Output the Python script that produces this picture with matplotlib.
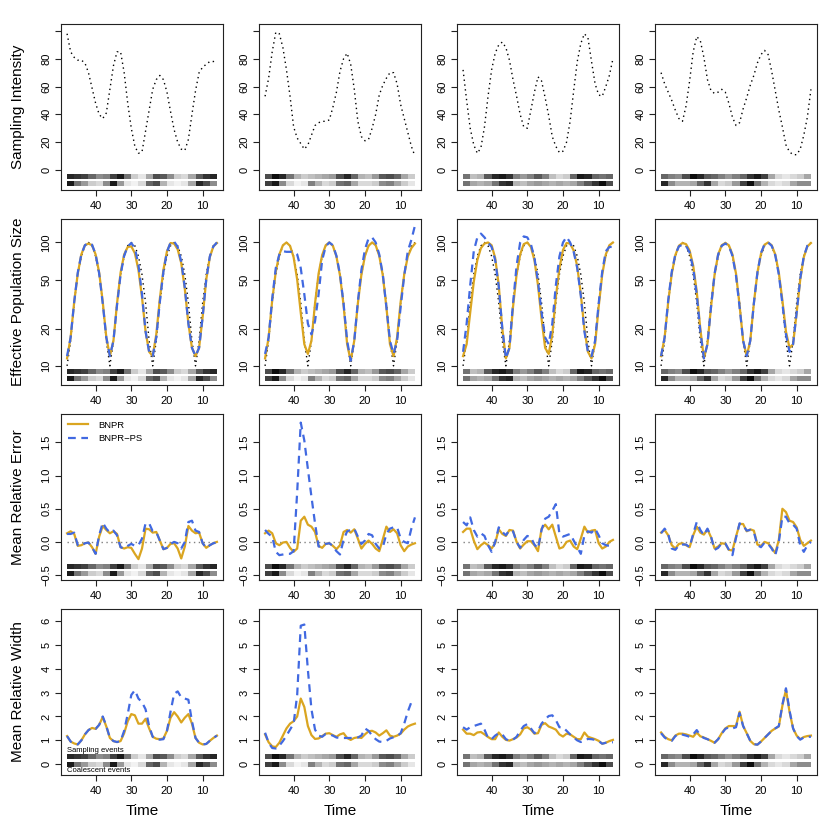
import matplotlib
matplotlib.use("Agg")
import matplotlib.pyplot as plt

plt.rcParams['font.family'] = ['Liberation Sans', 'DejaVu Sans']

# time grid (48 -> 6, one value per unit)
times = list(range(48, 5, -1))
# strip cells, 2 time units wide, left edges 48, 46, ... 8
cell_starts = list(range(48, 7, -2))

# --- row 1: sampling intensity (one per column) ---
samp_c1 = [98, 85, 81, 79, 79, 77, 70, 59, 48, 40, 37,
           41, 58, 75, 85, 85, 70, 48, 30, 17, 12, 13,
           28, 43, 58, 65, 68, 65, 56, 42, 29, 20, 15,
           14, 22, 40, 57, 70, 74, 76, 78, 78, 79]
samp_c2 = [53, 66, 85, 99, 98, 88, 72, 53, 31, 23, 19,
           15, 18, 25, 32, 34, 35, 35, 36, 45, 56, 71,
           80, 84, 76, 58, 35, 24, 21, 22, 30, 40, 54,
           61, 66, 70, 70, 62, 47, 37, 27, 17, 10]
samp_c3 = [72, 50, 30, 18, 12, 16, 31, 53, 72, 84, 90,
           92, 88, 79, 65, 53, 40, 31, 30, 43, 56, 67,
           64, 52, 39, 24, 17, 12.5, 13.5, 20, 35, 57, 78,
           91, 98, 95, 78, 62, 54, 53, 60, 68, 80]
samp_c4 = [70, 62, 56, 50, 43, 37, 35, 46, 64, 85, 96,
           93, 81, 65, 57, 55, 56, 58, 56, 48, 38, 32,
           34, 44, 52, 61, 68, 77, 83, 86, 83, 71, 57,
           43, 31, 18, 13, 11, 11, 15, 25, 38, 58]

# --- row 2: effective population size ---
ne_true = [10, 16, 32.5, 55, 77.5, 94, 100, 94, 77.5, 55, 32.5,
           16, 10, 16, 32.5, 55, 77.5, 94, 100, 94, 77.5, 55,
           32.5, 16, 10, 16, 32.5, 55, 77.5, 94, 100, 94, 77.5,
           55, 32.5, 16, 10, 16, 32.5, 55, 77.5, 94, 100]
ne_bnpr_c1 = [11.5, 17, 33, 56, 80, 95, 98, 95, 80, 57, 33,
              17, 12, 16, 32, 57, 80, 92, 93, 82, 60, 36,
              19, 13, 12, 18, 35, 60, 85, 99, 98, 88, 68,
              42, 22, 14, 12, 14, 25, 50, 76, 93, 99]
ne_ps_c1 = [12, 17, 33, 57, 80, 95, 99, 96, 80, 56, 32,
            17, 12, 16, 31, 55, 78, 93, 99, 90, 66, 38,
            19, 13, 12, 17, 33, 58, 84, 100, 102, 92, 70,
            43, 22, 14, 12, 14, 25, 50, 77, 93, 100]
ne_bnpr_c2 = [11.5, 17, 34, 58, 80, 95, 100, 94, 76, 50, 27,
              15, 12.5, 16, 32, 56, 79, 95, 100, 94, 77, 54,
              31, 15, 11, 16, 32, 55, 78, 94, 100, 95, 78,
              54, 30, 15, 12, 17, 33, 55, 77, 90, 98]
ne_ps_c2 = [12.5, 17, 35, 62, 80, 85, 84, 84, 84, 80, 62,
            38, 22, 18, 23, 38, 72, 93, 100, 95, 78, 55,
            32, 16, 11, 16, 33, 60, 88, 108, 110, 100, 80,
            55, 30, 16, 12.5, 16, 30, 54, 85, 105, 137]
ne_bnpr_c3 = [12, 15, 27, 48, 72, 90, 98, 100, 95, 75, 45,
              20, 11.5, 14, 30, 55, 80, 97, 100, 92, 72, 45,
              24, 14, 12.5, 18, 36, 62, 87, 99, 98, 86, 64,
              38, 20, 13, 11.5, 15, 30, 55, 80, 95, 100]
ne_ps_c3 = [13, 22, 45, 85, 110, 118, 110, 100, 92, 72, 44,
            20, 11.5, 14, 32, 65, 100, 112, 110, 97, 75, 48,
            27, 17, 15, 22, 45, 77, 100, 111, 100, 84, 62,
            37, 19, 13, 12, 16, 32, 58, 85, 92, 92]
ne_bnpr_c4 = [12, 17, 33, 56, 79, 94, 99, 97, 86, 65, 40,
              20, 11.5, 15, 30, 55, 80, 95, 99, 95, 80, 56,
              31, 16, 12, 16, 32, 57, 81, 96, 100, 95, 80,
              57, 34, 19, 14, 15, 27, 50, 76, 93, 99]
ne_ps_c4 = [12, 17, 34, 58, 80, 93, 96, 94, 83, 62, 38,
            19, 11.5, 15, 30, 56, 80, 94, 98, 94, 78, 54,
            30, 16, 12, 16, 32, 57, 82, 97, 100, 94, 79,
            55, 32, 18, 13, 15, 27, 51, 77, 94, 100]

# --- row 3: mean relative error ---
mre_bnpr_c1 = [0.13, 0.16, 0.12, -0.06, -0.05, -0.02, -0.01, -0.08, -0.18, 0.08, 0.24,
               0.18, 0.13, 0.16, 0.12, -0.08, -0.1, -0.08, -0.09, -0.18, -0.26, -0.1,
               0.2, 0.19, 0.14, 0.15, 0.02, -0.11, -0.09, -0.03, -0.02, -0.1, -0.25,
               -0.07, 0.24, 0.17, 0.13, 0.14, -0.02, -0.09, -0.05, -0.02, 0.0]
mre_ps_c1 = [0.12, 0.12, 0.14, -0.05, -0.06, -0.02, -0.01, -0.08, -0.18, 0.1, 0.29,
             0.2, 0.14, 0.17, 0.1, -0.08, -0.1, -0.06, -0.03, -0.06, -0.05, 0.05,
             0.28, 0.28, 0.16, 0.15, 0.02, -0.11, -0.09, -0.03, 0.0, -0.02, -0.1,
             0.0, 0.3, 0.32, 0.17, 0.15, -0.02, -0.09, -0.05, -0.02, -0.01]
mre_bnpr_c2 = [0.13, 0.17, 0.13, -0.02, -0.05, -0.01, 0.0, -0.09, -0.15, -0.1, 0.32,
               0.38, 0.26, 0.23, 0.15, -0.06, -0.09, -0.03, -0.02, -0.06, -0.11, -0.05,
               0.15, 0.18, 0.14, 0.19, 0.05, -0.1, -0.03, 0.02, -0.03, -0.1, -0.14,
               0.04, 0.23, 0.15, 0.19, 0.13, -0.05, -0.14, -0.07, -0.04, -0.02]
mre_ps_c2 = [0.18, 0.12, 0.08, -0.15, -0.2, -0.19, -0.18, -0.18, -0.14, 0.75, 1.8,
             1.53, 1.1, 0.68, 0.28, -0.07, -0.07, -0.03, -0.02, -0.06, -0.14, -0.19,
             0.03, 0.16, 0.18, 0.2, 0.08, -0.03, 0.02, 0.12, 0.1, -0.03, -0.1,
             -0.08, 0.12, 0.2, 0.22, 0.22, 0.05, 0.0, -0.02, 0.2, 0.37]
mre_bnpr_c3 = [0.15, 0.2, 0.2, 0.02, -0.11, -0.05, -0.01, -0.05, -0.1, -0.02, 0.19,
               0.12, 0.09, 0.18, 0.17, 0.0, -0.1, -0.04, 0.01, 0.01, -0.05, -0.14,
               0.2, 0.26, 0.19, 0.26, 0.08, -0.1, -0.08, 0.0, 0.02, -0.07, -0.11,
               0.05, 0.23, 0.14, 0.17, 0.18, -0.02, -0.1, -0.07, 0.0, 0.03]
mre_ps_c3 = [0.3, 0.25, 0.37, 0.18, 0.08, 0.13, 0.09, -0.05, -0.15, 0.0, 0.22,
             0.15, 0.1, 0.18, 0.16, 0.0, -0.09, 0.03, 0.09, 0.07, -0.04, -0.1,
             0.18, 0.35, 0.38, 0.47, 0.57, 0.12, 0.08, 0.1, 0.12, 0.02, -0.08,
             -0.18, 0.1, 0.16, 0.14, 0.2, 0.1, -0.02, -0.05, -0.06, -0.07]
mre_bnpr_c4 = [0.14, 0.18, 0.1, -0.05, -0.1, -0.03, -0.02, -0.05, -0.08, 0.1, 0.23,
               0.14, 0.11, 0.19, 0.07, -0.1, -0.07, -0.02, -0.03, -0.12, -0.13, 0.08,
               0.27, 0.27, 0.16, 0.19, 0.17, -0.04, -0.06, 0.0, -0.02, -0.09, -0.17,
               0.03, 0.5, 0.45, 0.32, 0.3, 0.22, 0.03, -0.06, -0.02, 0.02]
mre_ps_c4 = [0.13, 0.2, 0.12, -0.1, -0.12, -0.05, -0.04, -0.04, -0.08, 0.12, 0.3,
             0.18, 0.1, 0.2, 0.08, -0.12, -0.09, -0.02, -0.02, -0.12, -0.2, 0.06,
             0.28, 0.25, 0.17, 0.18, 0.15, -0.05, -0.08, -0.01, -0.03, -0.1, -0.2,
             0.0, 0.38, 0.38, 0.28, 0.26, 0.2, -0.05, -0.15, -0.05, 0.0]

# --- row 4: mean relative width ---
mrw_bnpr_c1 = [1.18, 0.95, 0.87, 0.83, 1.0, 1.25, 1.43, 1.52, 1.48, 1.65, 1.98,
               1.58, 1.1, 0.97, 0.93, 0.97, 1.3, 1.8, 2.1, 2.05, 1.7, 1.7,
               1.9, 1.5, 1.15, 1.07, 1.05, 1.08, 1.4, 1.95, 2.18, 2.0, 1.75,
               1.95, 2.1, 1.7, 1.1, 0.9, 0.83, 0.85, 0.98, 1.1, 1.2]
mrw_ps_c1 = [1.18, 0.95, 0.87, 0.83, 1.0, 1.25, 1.43, 1.52, 1.48, 1.65, 2.0,
             1.6, 1.1, 0.97, 0.93, 0.97, 1.4, 2.1, 2.9, 3.1, 2.75, 2.6,
             2.3, 1.6, 1.15, 1.05, 1.03, 1.05, 1.4, 2.2, 2.95, 3.05, 2.8,
             2.75, 2.7, 1.8, 1.1, 0.9, 0.83, 0.85, 0.98, 1.1, 1.2]
mrw_bnpr_c2 = [1.25, 0.92, 0.75, 0.72, 0.9, 1.2, 1.5, 1.7, 1.8, 2.0, 2.75,
               2.4, 1.6, 1.22, 1.06, 1.08, 1.18, 1.28, 1.3, 1.22, 1.15, 1.25,
               1.3, 1.1, 1.02, 1.1, 1.13, 1.1, 1.25, 1.38, 1.4, 1.33, 1.2,
               1.3, 1.42, 1.2, 1.15, 1.2, 1.28, 1.45, 1.58, 1.65, 1.7]
mrw_ps_c2 = [1.32, 0.9, 0.68, 0.66, 0.78, 0.97, 1.2, 1.45, 1.7, 2.9, 5.8,
             5.85, 3.95, 2.3, 1.45, 1.2, 1.15, 1.27, 1.25, 1.2, 1.12, 1.1,
             1.1, 1.1, 1.1, 1.1, 1.12, 1.2, 1.5, 1.4, 1.2, 1.05, 0.95,
             0.93, 0.98, 1.08, 1.13, 1.18, 1.3, 1.7, 2.2, 2.6, 2.68]
mrw_bnpr_c3 = [1.45, 1.28, 1.28, 1.22, 1.33, 1.35, 1.25, 1.14, 1.05, 1.05, 1.33,
               1.15, 1.02, 0.99, 1.05, 1.12, 1.25, 1.5, 1.55, 1.45, 1.28, 1.3,
               1.65, 1.72, 1.58, 1.52, 1.45, 1.25, 1.16, 1.28, 1.25, 1.15, 1.05,
               1.05, 1.33, 1.15, 1.1, 1.05, 0.98, 0.86, 0.9, 0.97, 1.02]
mrw_ps_c3 = [1.55, 1.45, 1.55, 1.6, 1.65, 1.7, 1.45, 1.1, 1.05, 1.2, 1.3,
             1.25, 1.05, 0.98, 1.03, 1.15, 1.4, 1.6, 1.68, 1.5, 1.3, 1.4,
             1.7, 1.88, 2.02, 2.05, 1.85, 1.55, 1.55, 1.4, 1.25, 1.12, 1.0,
             0.93, 1.0, 1.06, 1.05, 1.02, 0.97, 0.86, 0.9, 0.92, 0.92]
mrw_bnpr_c4 = [1.33, 1.15, 1.05, 1.0, 1.2, 1.28, 1.28, 1.25, 1.2, 1.15, 1.33,
               1.17, 1.12, 1.05, 0.98, 0.9, 1.05, 1.3, 1.5, 1.6, 1.6, 1.6,
               2.2, 1.6, 1.3, 0.98, 0.84, 0.82, 0.95, 1.1, 1.25, 1.4, 1.5,
               1.58, 2.45, 3.12, 2.2, 1.5, 1.2, 1.05, 1.14, 1.18, 1.2]
mrw_ps_c4 = [1.3, 1.12, 1.02, 0.98, 1.18, 1.27, 1.24, 1.2, 1.15, 1.25, 1.43,
             1.2, 1.1, 1.05, 0.98, 0.9, 1.05, 1.28, 1.48, 1.55, 1.5, 1.55,
             2.15, 1.6, 1.3, 0.98, 0.84, 0.82, 0.95, 1.1, 1.25, 1.4, 1.5,
             1.6, 2.5, 3.18, 2.25, 1.5, 1.18, 1.03, 1.12, 1.15, 1.15]

# --- event strips (darkness 0 = white, 1 = black), one cell per 2 time units ---
strip_samp_c1 = [0.85, 0.8, 0.75, 0.6, 0.45, 0.5, 0.75, 0.9, 0.55, 0.2, 0.1,
                 0.35, 0.7, 0.65, 0.45, 0.2, 0.15, 0.35, 0.65, 0.8, 0.85]
strip_coal_c1 = [0.9, 0.55, 0.4, 0.2, 0.15, 0.45, 0.9, 0.4, 0.1, 0.05, 0.15,
                 0.6, 0.7, 0.3, 0.1, 0.05, 0.1, 0.35, 0.85, 0.7, 0.45]
strip_samp_c2 = [0.7, 0.95, 0.85, 0.55, 0.3, 0.2, 0.25, 0.3, 0.35, 0.4, 0.7,
                 0.85, 0.6, 0.3, 0.25, 0.4, 0.65, 0.7, 0.6, 0.35, 0.2]
strip_coal_c2 = [0.75, 0.9, 0.45, 0.15, 0.05, 0.1, 0.5, 0.3, 0.15, 0.2, 0.55,
                 0.6, 0.35, 0.15, 0.15, 0.2, 0.45, 0.5, 0.35, 0.2, 0.1]
strip_samp_c3 = [0.55, 0.25, 0.3, 0.65, 0.85, 0.9, 0.8, 0.5, 0.4, 0.5, 0.65,
                 0.5, 0.25, 0.15, 0.2, 0.6, 0.9, 0.85, 0.6, 0.55, 0.6]
strip_coal_c3 = [0.55, 0.35, 0.3, 0.35, 0.55, 0.8, 0.85, 0.3, 0.25, 0.35, 0.4,
                 0.35, 0.3, 0.35, 0.3, 0.35, 0.5, 0.65, 0.8, 0.95, 0.7]
strip_samp_c4 = [0.6, 0.5, 0.45, 0.7, 0.95, 0.85, 0.65, 0.6, 0.5, 0.4, 0.5,
                 0.6, 0.8, 0.9, 0.75, 0.35, 0.15, 0.1, 0.15, 0.2, 0.35]
strip_coal_c4 = [0.85, 0.45, 0.3, 0.3, 0.35, 0.6, 0.8, 0.35, 0.15, 0.2, 0.4,
                 0.75, 0.95, 0.55, 0.3, 0.15, 0.1, 0.15, 0.35, 0.45, 0.45]

samp = [samp_c1, samp_c2, samp_c3, samp_c4]
ne_bnpr = [ne_bnpr_c1, ne_bnpr_c2, ne_bnpr_c3, ne_bnpr_c4]
ne_ps = [ne_ps_c1, ne_ps_c2, ne_ps_c3, ne_ps_c4]
mre_bnpr = [mre_bnpr_c1, mre_bnpr_c2, mre_bnpr_c3, mre_bnpr_c4]
mre_ps = [mre_ps_c1, mre_ps_c2, mre_ps_c3, mre_ps_c4]
mrw_bnpr = [mrw_bnpr_c1, mrw_bnpr_c2, mrw_bnpr_c3, mrw_bnpr_c4]
mrw_ps = [mrw_ps_c1, mrw_ps_c2, mrw_ps_c3, mrw_ps_c4]
strip_samp = [strip_samp_c1, strip_samp_c2, strip_samp_c3, strip_samp_c4]
strip_coal = [strip_coal_c1, strip_coal_c2, strip_coal_c3, strip_coal_c4]

row_labels = ['Sampling Intensity', 'Effective Population Size',
              'Mean Relative Error', 'Mean Relative Width']
x_ticks = [40, 30, 20, 10]

ORANGE = '#DAA520'
BLUE = '#4169E1'
DOT = (0, (1, 2.5))

W = 830
col_x = [61, 259, 457, 655]
row_top = [24, 219, 414, 609]
pw, ph = 162, 166

fig = plt.figure(figsize=(8.3, 8.3), dpi=100)


def draw_strips(ax, row, col):
    if row < 3:
        ys, yc = (0.064, 0.096), (0.024, 0.056)
    else:
        ys, yc = (0.098, 0.126), (0.05, 0.079)
    for x0, ds, dc in zip(cell_starts, strip_samp[col], strip_coal[col]):
        ax.axvspan(x0 - 2, x0, ymin=ys[0], ymax=ys[1], color=str(1 - ds),
                   lw=0, antialiased=False, zorder=1)
        ax.axvspan(x0 - 2, x0, ymin=yc[0], ymax=yc[1], color=str(1 - dc),
                   lw=0, antialiased=False, zorder=1)


for r in range(4):
    for c in range(4):
        ax = fig.add_axes([col_x[c] / W, 1 - (row_top[r] + ph) / W, pw / W, ph / W])
        draw_strips(ax, r, c)

        if r == 0:
            ax.plot(times, samp[c], color='black', ls=DOT, lw=1.0)
            ax.set_ylim(-14.4, 105)
            ax.set_yticks([0, 20, 40, 60, 80, 100])
            ax.set_yticklabels(['0', '20', '40', '60', '80', ''])
        elif r == 1:
            ax.set_yscale('log')
            ax.plot(times, ne_true, color='black', ls=DOT, lw=1.0, zorder=2)
            ax.plot(times, ne_bnpr[c], color=ORANGE, lw=1.6, zorder=3)
            ax.plot(times, ne_ps[c], color=BLUE, lw=1.6, dashes=(3.5, 2.5), zorder=4)
            ax.set_ylim(7.0, 155)
            ax.set_yticks([10, 20, 50, 100])
            ax.set_yticklabels(['10', '20', '50', '100'])
            ax.minorticks_off()
        elif r == 2:
            ax.hlines(0, 48, 6, color='gray', ls=DOT, lw=1.0, zorder=2)
            ax.plot(times, mre_bnpr[c], color=ORANGE, lw=1.6, zorder=3, label='BNPR')
            ax.plot(times, mre_ps[c], color=BLUE, lw=1.6, dashes=(3.5, 2.5), zorder=4,
                    label='BNPR\u2212PS')
            ax.set_ylim(-0.575, 1.93)
            ax.set_yticks([-0.5, 0, 0.5, 1.0, 1.5])
            ax.set_yticklabels(['\u22120.5', '0.0', '0.5', '1.0', '1.5'])
            if c == 0:
                ax.legend(loc='upper left', frameon=False, fontsize=6.8,
                          handlelength=2.2, handletextpad=1.0, labelspacing=0.45,
                          borderaxespad=0.3, bbox_to_anchor=(0.0, 1.0))
        else:
            ax.plot(times, mrw_bnpr[c], color=ORANGE, lw=1.6, zorder=3)
            ax.plot(times, mrw_ps[c], color=BLUE, lw=1.6, dashes=(3.5, 2.5), zorder=4)
            ax.set_ylim(-0.45, 6.5)
            ax.set_yticks([0, 1, 2, 3, 4, 5, 6])
            if c == 0:
                ax.text(48, 0.128, 'Sampling events', transform=ax.get_xaxis_transform(),
                        fontsize=5.5, ha='left', va='bottom')
                ax.text(48, 0.048, 'Coalescent events', transform=ax.get_xaxis_transform(),
                        fontsize=5.5, ha='left', va='top')
            ax.set_xlabel('Time', fontsize=11, labelpad=6)

        ax.set_xlim(49.7, 4.3)
        ax.set_xticks(x_ticks)
        ax.set_xticklabels([str(v) for v in x_ticks])
        ax.tick_params(axis='both', direction='out', length=4, width=0.8,
                       labelsize=8, color='#222222')
        ax.tick_params(axis='x', pad=4)
        ax.tick_params(axis='y', pad=3, labelrotation=90)
        plt.setp(ax.get_yticklabels(), va='center')
        for sp in ax.spines.values():
            sp.set_color('#222222')
            sp.set_linewidth(0.8)

        if c == 0:
            fig.text(18 / W, 1 - (row_top[r] + ph / 2) / W, row_labels[r],
                     rotation=90, ha='center', va='center', fontsize=11)

fig.savefig('out.png', dpi=100)
